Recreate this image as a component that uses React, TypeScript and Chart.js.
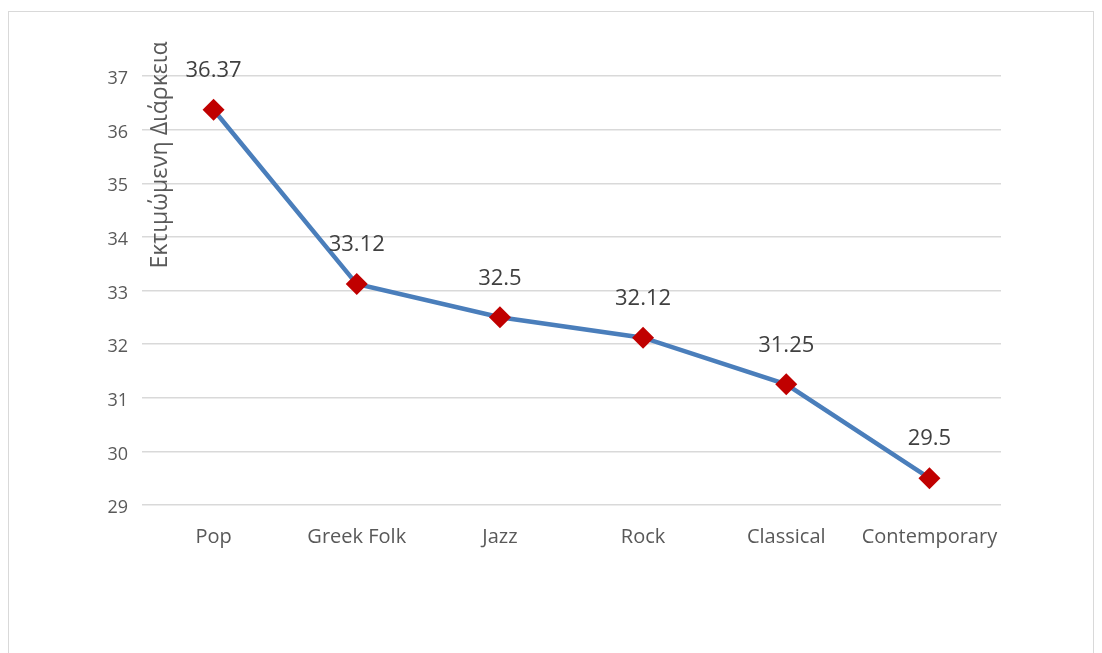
import React, { useEffect, useRef } from "react";
import { Chart, registerables } from "chart.js";

Chart.register(...registerables);

const categories = ["Pop", "Greek Folk", "Jazz", "Rock", "Classical", "Contemporary"];
const durations = [36.37, 33.12, 32.5, 32.12, 31.25, 29.5];
const yTicks = [29, 30, 31, 32, 33, 34, 35, 36, 37];
const yTitle = "Εκτιμώμενη Διάρκεια";

const FONT = "'Open Sans', 'Noto Sans', sans-serif";

// Value labels above each point
const valueLabels = {
  id: "valueLabels",
  afterDatasetsDraw(chart: any) {
    const ctx = chart.ctx;
    const meta = chart.getDatasetMeta(0);
    ctx.save();
    ctx.fillStyle = "#404040";
    ctx.font = `22px ${FONT}`;
    ctx.textAlign = "center";
    ctx.textBaseline = "middle";
    meta.data.forEach((pt: any, i: number) => {
      ctx.fillText(String(durations[i]), pt.x, pt.y - 39);
    });
    ctx.restore();
  },
};

// Rotated y-axis title, drawn just inside the plot area
const axisTitle = {
  id: "axisTitle",
  afterDraw(chart: any) {
    const ctx = chart.ctx;
    const area = chart.chartArea;
    ctx.save();
    ctx.translate(area.left + 18, area.top + 79);
    ctx.rotate(-Math.PI / 2);
    ctx.fillStyle = "#595959";
    ctx.font = `23px ${FONT}`;
    ctx.textAlign = "center";
    ctx.textBaseline = "middle";
    ctx.fillText(yTitle, 0, 0);
    ctx.restore();
  },
};

export default function App() {
  const ref = useRef<HTMLCanvasElement | null>(null);

  useEffect(() => {
    if (!ref.current) return;
    const chart = new Chart(ref.current, {
      type: "line",
      data: {
        labels: categories,
        datasets: [
          {
            data: durations,
            borderColor: "#4A7EBB",
            borderWidth: 4.5,
            tension: 0,
            pointStyle: "rectRot",
            pointRadius: 11,
            pointBackgroundColor: "#C00000",
            pointBorderColor: "#C00000",
            pointBorderWidth: 0,
          },
        ],
      },
      options: {
        responsive: false,
        animation: false,
        layout: { padding: { left: 0, top: 64, right: 92, bottom: 97 } },
        plugins: {
          legend: { display: false },
          tooltip: { enabled: false },
        },
        scales: {
          x: {
            offset: true,
            grid: { display: false },
            border: { display: false },
            ticks: {
              color: "#595959",
              font: { family: FONT, size: 20 },
              padding: 12,
              maxRotation: 0,
              autoSkip: false,
            },
            afterFit(scale: any) {
              scale.height = 50;
            },
          },
          y: {
            min: yTicks[0],
            max: yTicks[yTicks.length - 1],
            afterBuildTicks(scale: any) {
              scale.ticks = yTicks.map((v) => ({ value: v }));
            },
            grid: { color: "#d9d9d9", lineWidth: 1.5, drawTicks: false },
            border: { display: false },
            ticks: {
              color: "#595959",
              font: { family: FONT, size: 18 },
              padding: 14,
              labelOffset: 3,
            },
            afterFit(scale: any) {
              scale.width = 133;
            },
          },
        },
      },
      plugins: [valueLabels, axisTitle],
    });
    return () => chart.destroy();
  }, []);

  return (
    <div
      style={{
        width: 1086,
        height: 650,
        marginTop: 3,
        border: "1px solid #d9d9d9",
        boxSizing: "border-box",
        background: "#fff",
      }}
    >
      <canvas ref={ref} width={1084} height={640} />
    </div>
  );
}
